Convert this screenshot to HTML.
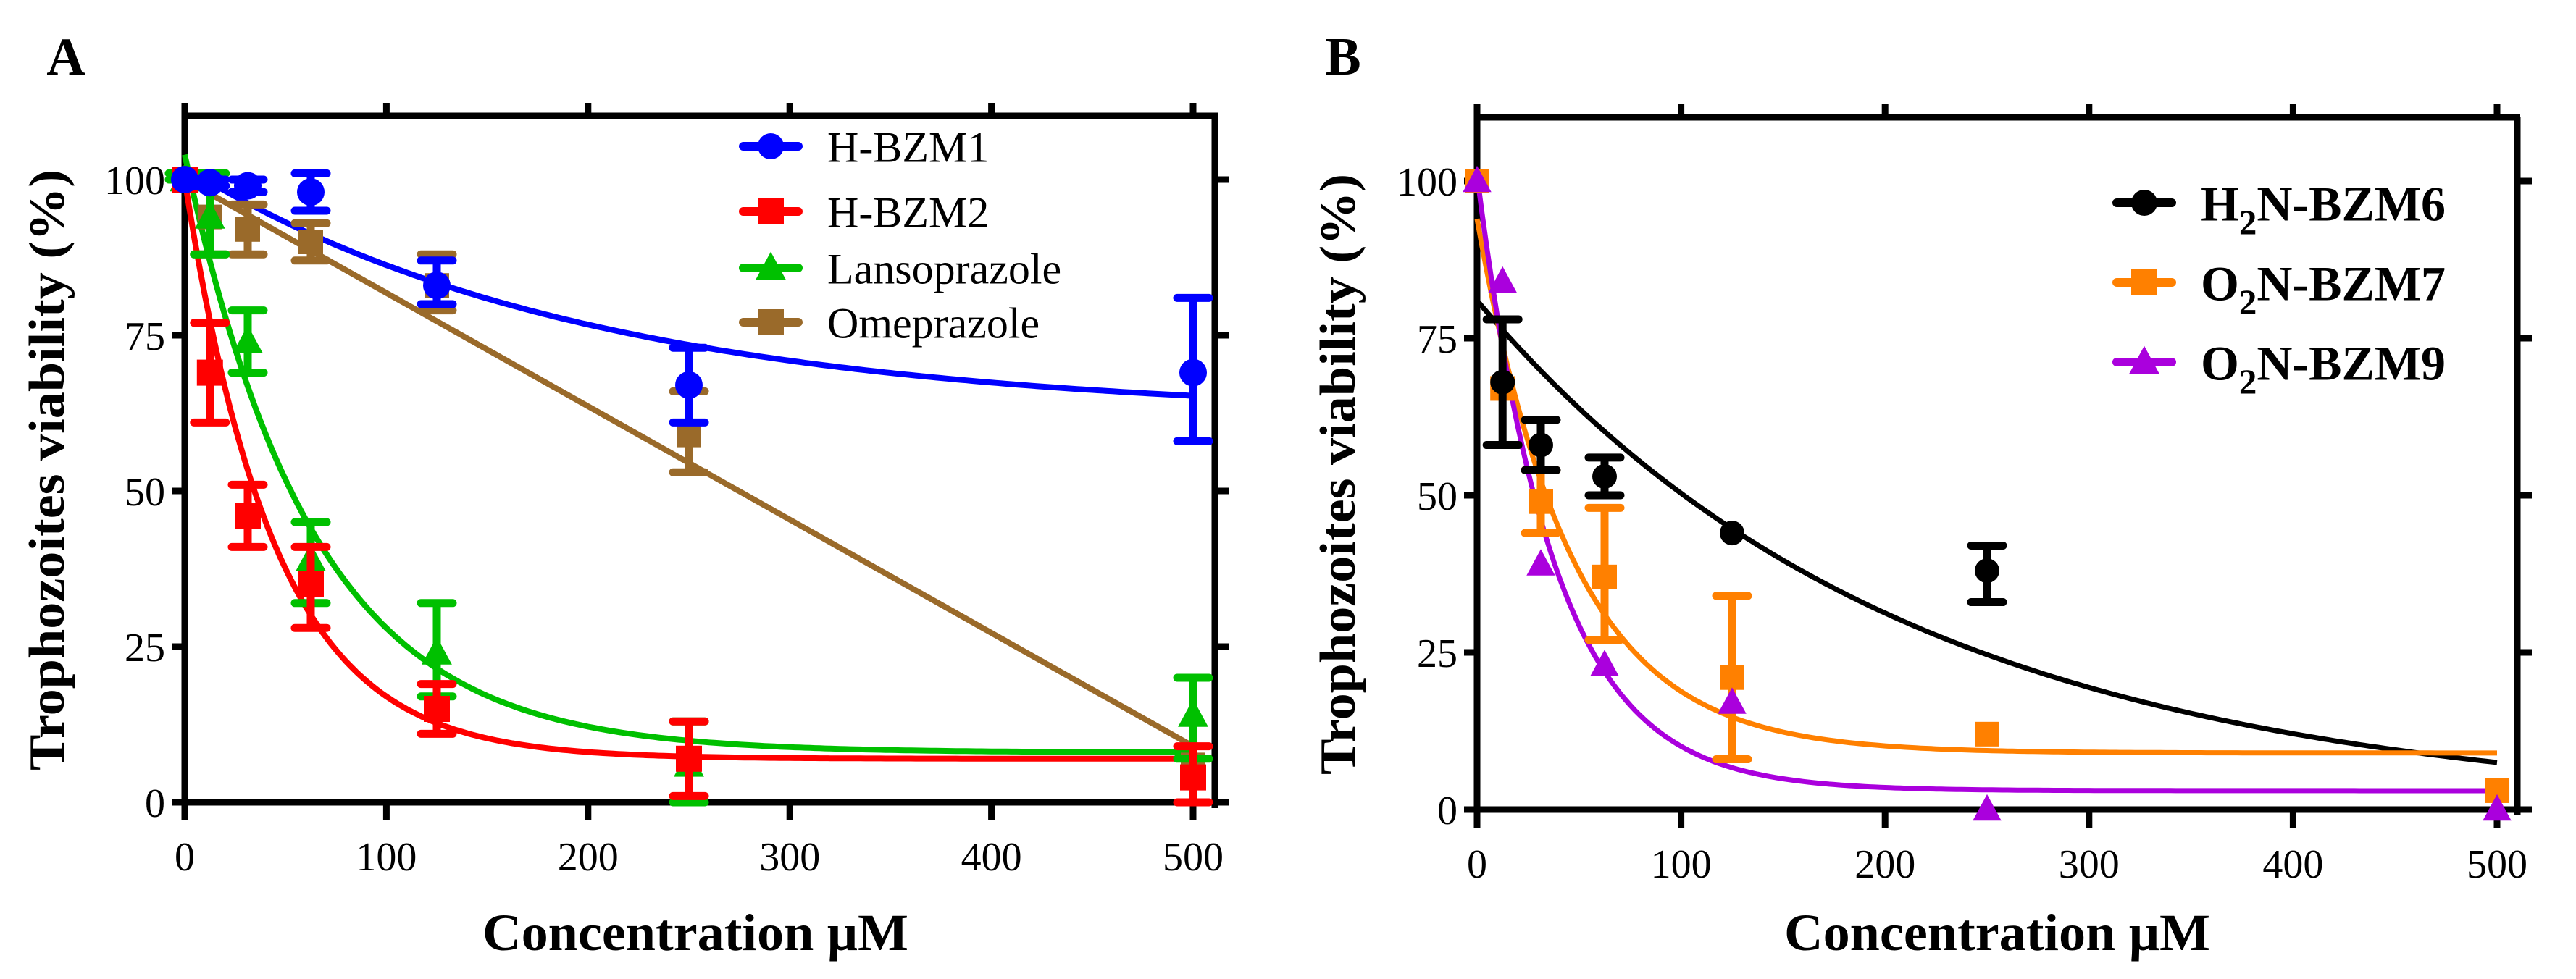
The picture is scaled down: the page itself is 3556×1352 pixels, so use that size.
<!DOCTYPE html>
<html><head><meta charset="utf-8"><style>
html,body{margin:0;padding:0;background:#fff;}
svg{display:block;}
text{font-family:"Liberation Serif",serif;fill:#000;}
</style></head><body>
<svg id="fig" width="3556" height="1352" viewBox="0 0 3556 1352" xmlns="http://www.w3.org/2000/svg"></svg>
<script>
// ---------- data ----------
const conc = [0, 12.5, 31.25, 62.5, 125, 250, 500];
const xTicks = [0, 100, 200, 300, 400, 500];
const yTicks = [0, 25, 50, 75, 100];

// Panel A
const bzm1Mean = [100, 99.5, 99, 98, 83, 67, 69];
const bzm1Lo   = [100, 99, 98, 95, 80, 61, 58];
const bzm1Hi   = [100, 100, 100, 101, 87, 73, 81];
const bzm1Fit  = [102, 62, 0.005];     // y0, plateau, k
const bzm2Mean = [100, 69, 46, 35, 15, 7, 4];
const bzm2Lo   = [100, 61, 41, 28, 11, 1, 0];
const bzm2Hi   = [100, 77, 51, 41, 19, 13, 9];
const bzm2Fit  = [100, 7, 0.0223];
const lansoMean = [100, 94, 74, 39, 24, 6, 14];
const lansoLo   = [100, 88, 69, 32, 17, 0, 7];
const lansoHi   = [101, 101, 79, 45, 32, 13, 20];
const lansoFit  = [104, 8, 0.0157];
const omeMean = [100, 94, 92, 90, 83, 59, 6];
const omeLo   = [100, 88, 88, 87, 79, 53, 6];
const omeHi   = [100, 99, 96, 93, 88, 66, 6];
const omeLine = [100, -0.182];          // intercept, slope

// Panel B
const bzm6Mean = [null, 68, 58, 53, 44, 38, null];
const bzm6Lo   = [null, 58, 54, 50, 44, 33, null];
const bzm6Hi   = [null, 78, 62, 56, 44, 42, null];
const bzm6Fit  = [81, 0, 0.00476];
const bzm7Mean = [100, 67, 49, 37, 21, 12, 3];
const bzm7Lo   = [100, 67, 44, 27, 8, 12, 3];
const bzm7Hi   = [100, 67, 54, 48, 34, 12, 3];
const bzm7Fit  = [94, 9, 0.0216];
const bzm9Mean = [100, 84, 39, 23, 17, 0, 0];
const bzm9Fit  = [101, 3, 0.0263];

// ---------- helpers ----------
const NS = "http://www.w3.org/2000/svg";
const svg = document.getElementById('fig');
function mk(tag, attrs, parent){
  const e = document.createElementNS(NS, tag);
  for (const k in attrs) e.setAttribute(k, attrs[k]);
  (parent||svg).appendChild(e);
  return e;
}
function makeAxes(L, R, T, B, y0px, y100px, x0px, x500px){
  return {
    sx: v => x0px + (x500px - x0px) * v / 500,
    sy: v => y0px + (y100px - y0px) * v / 100,
    L, R, T, B
  };
}
function marker(g, shape, cx, cy, s, color){
  let m;
  if (shape === 'circle') m = mk('circle', {cx, cy, r: s/2, fill: color}, g);
  else if (shape === 'square') m = mk('rect', {x: cx - s/2, y: cy - s/2, width: s, height: s, fill: color}, g);
  else m = mk('polygon', {points: `${cx},${cy - s*0.62} ${cx + s*0.58},${cy + s*0.45} ${cx - s*0.58},${cy + s*0.45}`, fill: color}, g);
  return m;
}
function drawFrame(ax, panelName){
  const g = mk('g', {});
  
  
  const lw = 9;
  mk('line', {x1: ax.L, y1: ax.T - 5, x2: ax.L, y2: ax.B + 25, stroke: '#000', 'stroke-width': lw}, g);
  mk('line', {x1: ax.L - 18, y1: ax.B, x2: ax.R + 20, y2: ax.B, stroke: '#000', 'stroke-width': lw}, g);
  mk('line', {x1: ax.L - 4, y1: ax.T, x2: ax.R + 4, y2: ax.T, stroke: '#000', 'stroke-width': lw}, g);
  mk('line', {x1: ax.R, y1: ax.T, x2: ax.R, y2: ax.B + 8, stroke: '#000', 'stroke-width': lw}, g);
  xTicks.forEach(v => {
    const x = ax.sx(v);
    mk('line', {x1: x, y1: ax.B, x2: x, y2: ax.B + 25, stroke: '#000', 'stroke-width': lw}, g);
    mk('line', {x1: x, y1: ax.T, x2: x, y2: ax.T - 18, stroke: '#000', 'stroke-width': lw}, g);
    const t = mk('text', {x, y: ax.B + 94, 'font-size': 56, 'text-anchor': 'middle'}, g);
    t.textContent = v;
    
    
  });
  yTicks.forEach(v => {
    const y = ax.sy(v);
    mk('line', {x1: ax.L - 18, y1: y, x2: ax.L, y2: y, stroke: '#000', 'stroke-width': lw}, g);
    mk('line', {x1: ax.R, y1: y, x2: ax.R + 20, y2: y, stroke: '#000', 'stroke-width': lw}, g);
    const t = mk('text', {x: ax.L - 27, y: y + 20, 'font-size': 56, 'text-anchor': 'end'}, g);
    t.textContent = v;
    
    
  });
}
function fitPath(ax, fit, color, w, name){
  let d = '';
  for (let i = 0; i <= 200; i++){
    const x = 500 * i / 200;
    const y = fit[1] + (fit[0] - fit[1]) * Math.exp(-fit[2] * x);
    d += (i ? 'L' : 'M') + ax.sx(x).toFixed(1) + ',' + ax.sy(y).toFixed(1);
  }
  const p = mk('path', {d, fill: 'none', stroke: color, 'stroke-width': w});
  
  
}
function series(ax, mean, lo, hi, shape, color, size, name){
  const g = mk('g', {});
  
  
  conc.forEach((c, i) => {
    const x = ax.sx(c);
    if (lo && hi && lo[i] != null && hi[i] - lo[i] > 0.5){
      mk('line', {x1: x, y1: ax.sy(lo[i]), x2: x, y2: ax.sy(hi[i]), stroke: color, 'stroke-width': 11}, g);
      [lo[i], hi[i]].forEach(v => mk('line', {x1: x - 22, y1: ax.sy(v), x2: x + 22, y2: ax.sy(v), stroke: color, 'stroke-width': 11, 'stroke-linecap': 'round'}, g));
    }
    if (mean[i] != null){
      const m = marker(g, shape, x, ax.sy(mean[i]), size, color);
      
      
    }
  });
}
function legendItem(x1, x2, cy, shape, color, size, label, fs, bold, name){
  const g = mk('g', {});
  
  
  mk('line', {x1, y1: cy, x2, y2: cy, stroke: color, 'stroke-width': 12, 'stroke-linecap': 'round'}, g);
  marker(g, shape, (x1 + x2) / 2, cy, size, color);
  const t = mk('text', {x: x2 + 40, y: cy + fs * 0.36, 'font-size': fs, 'font-weight': bold ? 'bold' : 'normal'}, g);
  if (Array.isArray(label)){
    label.forEach(p => {
      const ts = mk('tspan', p[1] ? {'font-size': fs * 0.72, dy: fs * 0.28} : (p[2] ? {dy: -fs * 0.28} : {}), t);
      ts.textContent = p[0];
    });
  } else t.textContent = label;
}
function axisTitles(ax, cx, titleX, titleY, letter, letterX){
  const yt = mk('text', {x: 0, y: 0, 'font-size': 70, 'font-weight': 'bold', 'text-anchor': 'middle',
    transform: `translate(${cx},${(ax.T + ax.B) / 2 + 15}) rotate(-90)`, textLength: 830, lengthAdjust: 'spacingAndGlyphs'});
  yt.textContent = 'Trophozoites viability (%)';
  
  
  const xt = mk('text', {x: titleX, y: titleY, 'font-size': 72, 'font-weight': 'bold', 'text-anchor': 'middle', textLength: 588, lengthAdjust: 'spacingAndGlyphs'});
  xt.textContent = 'Concentration μM';
  
  
  const pl = mk('text', {x: letterX, y: 103, 'font-size': 74, 'font-weight': 'bold', 'text-anchor': 'middle'});
  pl.textContent = letter;
  
  
}

// ---------- Panel A ----------
const A = makeAxes(255, 1677, 160, 1108, 1108, 248, 255, 1647);
drawFrame(A, 'panel-a');
axisTitles(A, 88, 960, 1312, 'A', 91);
fitPath(A, bzm1Fit, '#0000ff', 8, 'h-bzm1-fit');
fitPath(A, lansoFit, '#00c000', 8, 'lansoprazole-fit');
fitPath(A, bzm2Fit, '#ff0000', 8, 'h-bzm2-fit');
(function(){
  const p = mk('line', {x1: A.sx(0), y1: A.sy(omeLine[0]), x2: A.sx(500), y2: A.sy(omeLine[0] + omeLine[1] * 500), stroke: '#9a6a2a', 'stroke-width': 8});
  
  
})();
series(A, omeMean, omeLo, omeHi, 'square', '#9a6a2a', 34, 'omeprazole-series');
series(A, lansoMean, lansoLo, lansoHi, 'triangle', '#00c000', 36, 'lansoprazole-series');
series(A, bzm2Mean, bzm2Lo, bzm2Hi, 'square', '#ff0000', 36, 'h-bzm2-series');
series(A, bzm1Mean, bzm1Lo, bzm1Hi, 'circle', '#0000ff', 38, 'h-bzm1-series');
legendItem(1026, 1102, 202, 'circle', '#0000ff', 36, 'H-BZM1', 60, false, 'legend-h-bzm1');
legendItem(1026, 1102, 292, 'square', '#ff0000', 36, 'H-BZM2', 60, false, 'legend-h-bzm2');
legendItem(1026, 1102, 370, 'triangle', '#00c000', 36, 'Lansoprazole', 60, false, 'legend-lansoprazole');
legendItem(1026, 1102, 445, 'square', '#9a6a2a', 36, 'Omeprazole', 60, false, 'legend-omeprazole');

// ---------- Panel B ----------
const Bx = makeAxes(2039, 3475, 162, 1118, 1118, 250, 2039, 3447);
drawFrame(Bx, 'panel-b');
axisTitles(Bx, 1870, 2757, 1312, 'B', 1854);
fitPath(Bx, bzm6Fit, '#000000', 7, 'h2n-bzm6-fit');
fitPath(Bx, bzm7Fit, '#ff8000', 7, 'o2n-bzm7-fit');
fitPath(Bx, bzm9Fit, '#aa00dd', 7, 'o2n-bzm9-fit');
series(Bx, bzm7Mean, bzm7Lo, bzm7Hi, 'square', '#ff8000', 34, 'o2n-bzm7-series');
series(Bx, bzm9Mean, null, null, 'triangle', '#aa00dd', 34, 'o2n-bzm9-series');
series(Bx, bzm6Mean, bzm6Lo, bzm6Hi, 'circle', '#000000', 34, 'h2n-bzm6-series');
legendItem(2922, 2998, 280, 'circle', '#000000', 36, [['H'], ['2', true], ['N-BZM6', false, true]], 68, true, 'legend-h2n-bzm6');
legendItem(2922, 2998, 390, 'square', '#ff8000', 36, [['O'], ['2', true], ['N-BZM7', false, true]], 68, true, 'legend-o2n-bzm7');
legendItem(2922, 2998, 500, 'triangle', '#aa00dd', 36, [['O'], ['2', true], ['N-BZM9', false, true]], 68, true, 'legend-o2n-bzm9');
</script>
</body></html>
